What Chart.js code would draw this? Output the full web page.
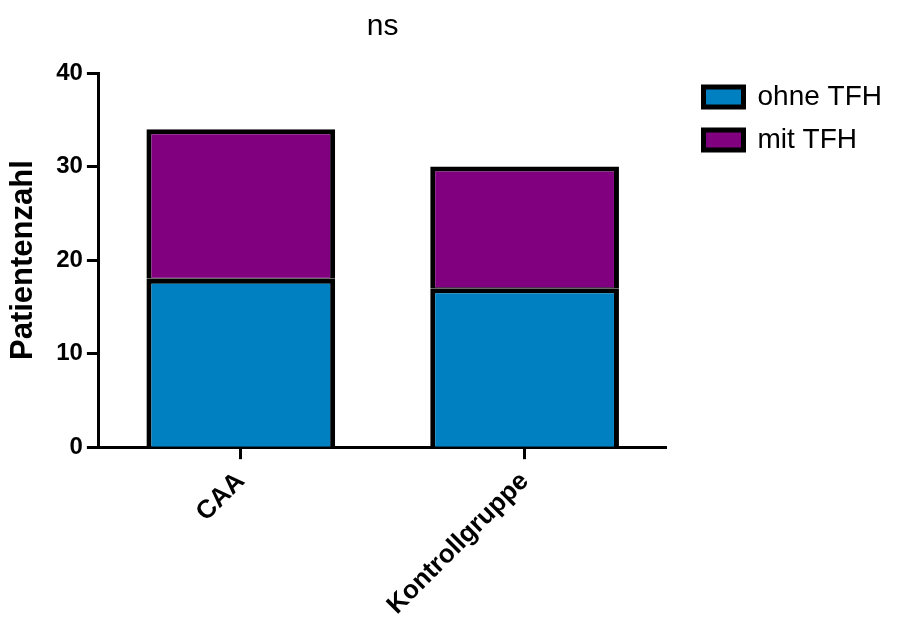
<!DOCTYPE html>
<html>
<head>
<meta charset="utf-8">
<script src="https://cdn.jsdelivr.net/npm/chart.js@4"></script>
<style>
  html, body { margin: 0; padding: 0; background: #fff; }
  #wrap { width: 900px; height: 628px; }
</style>
</head>
<body>
<div id="wrap"><canvas id="patientChart"></canvas></div>
<script>
// data
const categories = ['CAA', 'Kontrollgruppe'];
const ohneTFH = [18, 17];
const mitTFH = [16, 13];
const yMin = 0;
const yMax = 40;
const yStep = 10;

const FONT = "'Liberation Sans', Arial, sans-serif";

document.addEventListener('DOMContentLoaded', function() {
    const ctx = document.getElementById('patientChart').getContext('2d');
    new Chart(ctx, {
        type: 'bar',
        data: {
            labels: categories,
            datasets: [
                {
                    label: 'ohne TFH',
                    data: ohneTFH,
                    backgroundColor: '#0080c0',
                    borderColor: '#000',
                    borderWidth: 5
                },
                {
                    label: 'mit TFH',
                    data: mitTFH,
                    backgroundColor: '#800080',
                    borderColor: '#000',
                    // thin bottom edge so the seam with the blue bar stays black
                    borderWidth: { top: 5, left: 5, right: 5, bottom: 1 },
                    borderSkipped: false
                }
            ]
        },
        options: {
            responsive: true,
            maintainAspectRatio: false,
            animation: false,
            layout: {
                padding: { left: 0, right: 8, top: 0, bottom: 0 }
            },
            datasets: {
                bar: {
                    categoryPercentage: 1.0,
                    barPercentage: 0.665
                }
            },
            plugins: {
                title: {
                    display: true,
                    text: 'ns',
                    fullSize: false,
                    color: '#000',
                    font: { family: FONT, size: 30, weight: 'normal' },
                    padding: { top: 9, bottom: 28 }
                },
                legend: {
                    position: 'right',
                    align: 'start',
                    maxWidth: 230,
                    // empty title only used to push the items down
                    title: {
                        display: true,
                        text: '',
                        font: { family: FONT, size: 10 },
                        padding: { top: 56, bottom: 0 }
                    },
                    labels: {
                        color: '#000',
                        font: { family: FONT, size: 28 },
                        boxWidth: 40,
                        boxHeight: 20,
                        padding: 15,
                        generateLabels: function(chart) {
                            const items = Chart.defaults.plugins.legend.labels.generateLabels(chart);
                            return items.map(function(item) {
                                item.lineWidth = 5;
                                return item;
                            });
                        }
                    }
                },
                tooltip: { enabled: false }
            },
            scales: {
                x: {
                    stacked: true,
                    grid: {
                        offset: false,
                        drawOnChartArea: false,
                        drawTicks: true,
                        tickLength: 12,
                        tickWidth: 3,
                        tickColor: '#000'
                    },
                    border: { display: true, color: '#000', width: 3 },
                    ticks: {
                        color: '#000',
                        font: { family: FONT, size: 26, weight: 'bold' },
                        minRotation: 45,
                        maxRotation: 45,
                        padding: 7
                    }
                },
                y: {
                    stacked: true,
                    min: yMin,
                    max: yMax,
                    grid: {
                        drawOnChartArea: false,
                        drawTicks: true,
                        tickLength: 12,
                        tickWidth: 3,
                        tickColor: '#000'
                    },
                    border: { display: true, color: '#000', width: 3 },
                    ticks: {
                        stepSize: yStep,
                        color: '#000',
                        font: { family: FONT, size: 24, weight: 'bold' },
                        padding: 4
                    },
                    title: {
                        display: true,
                        text: 'Patientenzahl',
                        color: '#000',
                        font: { family: FONT, size: 31, weight: 'bold' },
                        padding: { top: 5, bottom: 10 }
                    }
                },
                // empty spacer axis between plot and legend
                gap: {
                    type: 'linear',
                    position: 'right',
                    display: true,
                    grid: { display: false },
                    border: { display: false },
                    ticks: { display: false },
                    afterFit: function(scale) { scale.width = 22; }
                }
            }
        }
    });
});
</script>
</body>
</html>
